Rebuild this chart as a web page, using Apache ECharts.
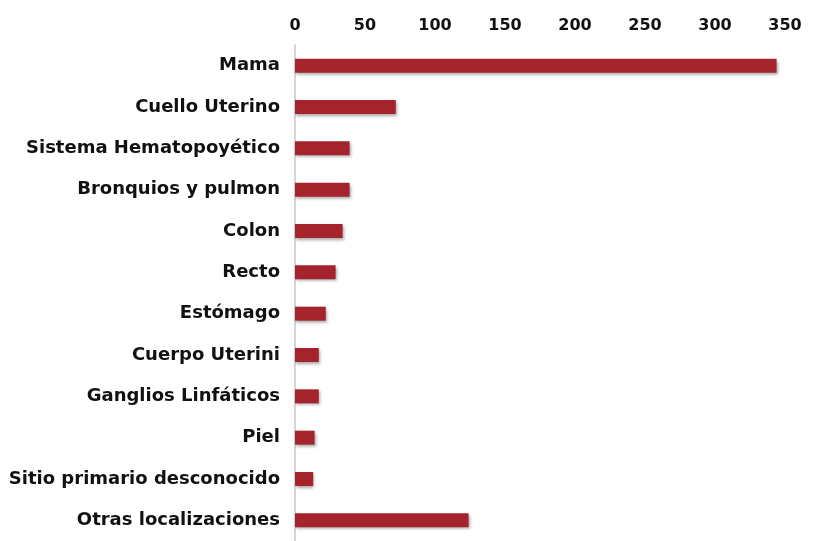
<!DOCTYPE html>
<html>
<head>
<meta charset="utf-8">
<script src="https://cdn.jsdelivr.net/npm/echarts@6/dist/echarts.min.js"></script>
<style>
html, body { margin: 0; padding: 0; background: #fff; }
#chart { width: 821px; height: 541px; }
</style>
</head>
<body>
<div id="chart"></div>
<script>
// categorías y casos
const categories = [
  'Mama', 'Cuello Uterino', 'Sistema Hematopoyético', 'Bronquios y pulmon',
  'Colon', 'Recto', 'Estómago', 'Cuerpo Uterini', 'Ganglios Linfáticos',
  'Piel', 'Sitio primario desconocido', 'Otras localizaciones'
]
const values = [344, 72, 39, 39, 34, 29, 22, 17, 17, 14, 13, 124]
const ticks = [0, 50, 100, 150, 200, 250, 300, 350]

const chart = echarts.init(document.getElementById('chart'))
const font = '"DejaVu Sans", sans-serif'

const option = {
  animation: false,
  grid: {
    left: 295,
    top: 45,
    width: 490,
    height: 506,
    containLabel: false
  },
  xAxis: {
    type: 'value',
    position: 'top',
    min: ticks[0],
    max: ticks[ticks.length - 1],
    interval: 50,
    axisLine: { show: false },
    axisTick: { show: false },
    splitLine: { show: false },
    axisLabel: {
      color: '#111',
      fontFamily: font,
      fontWeight: 'bold',
      fontSize: 16,
      margin: 11
    }
  },
  yAxis: {
    type: 'category',
    inverse: true,
    data: categories,
    axisLine: { show: true, lineStyle: { color: '#c8c8c8', width: 1.5 } },
    axisTick: { show: false },
    axisLabel: {
      color: '#111',
      fontFamily: font,
      fontWeight: 'bold',
      fontSize: 18,
      margin: 15,
      padding: [3, 0, 0, 0]
    }
  },
  series: [
    {
      type: 'bar',
      data: values,
      barWidth: 14,
      itemStyle: {
        color: '#a4232c',
        shadowColor: 'rgba(0,0,0,0.35)',
        shadowBlur: 3,
        shadowOffsetX: 1,
        shadowOffsetY: 2
      }
    }
  ]
}
chart.setOption(option)
</script>
</body>
</html>
